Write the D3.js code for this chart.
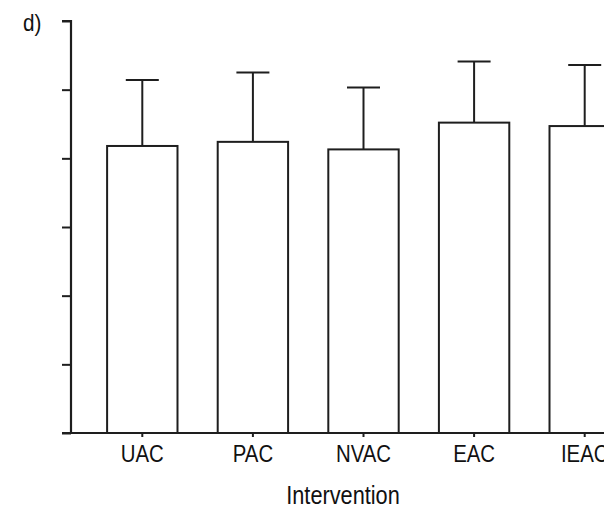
<!DOCTYPE html>
<html><head><meta charset="utf-8">
<script src="https://cdn.jsdelivr.net/npm/d3@7"></script>
<style>html,body{margin:0;padding:0;background:#fff;}svg{display:block;}</style>
</head><body>
<svg id="c" width="604" height="509"></svg>
<script>
const categories = ["UAC", "PAC", "NVAC", "EAC", "IEAC"];
const means = [4.18, 4.24, 4.13, 4.52, 4.47];
const errUpper = [5.14, 5.25, 5.03, 5.41, 5.36];
const yTicks = [0, 1, 2, 3, 4, 5, 6];
const panelLabel = "d)";
const xTitle = "Intervention";

const svg = d3.select("#c");
const font = "'Liberation Sans',Arial,sans-serif";
const ink = "#1e1e1e";

const y = d3.scaleLinear().domain([0, 6]).range([433, 21]);
const x = d3.scaleBand().domain(categories).range([87, 640]).paddingInner(0.3636).paddingOuter(0.1818);
const axisX = 71;

// error bars
const eb = svg.append("g").attr("stroke", ink).attr("stroke-width", 2).attr("fill", "none");
categories.forEach((c, i) => {
  const cx = x(c) + x.bandwidth() / 2;
  eb.append("line").attr("x1", cx).attr("x2", cx).attr("y1", y(means[i])).attr("y2", y(errUpper[i]));
  eb.append("line").attr("x1", cx - 16.5).attr("x2", cx + 16.5).attr("y1", y(errUpper[i])).attr("y2", y(errUpper[i]));
});

// bars
svg.append("g").selectAll("rect").data(categories).join("rect")
  .attr("x", d => x(d)).attr("width", x.bandwidth())
  .attr("y", (d, i) => y(means[i])).attr("height", (d, i) => y(0) - y(means[i]))
  .attr("fill", "#fff").attr("stroke", ink).attr("stroke-width", 2);

// y axis
const ya = svg.append("g").attr("transform", `translate(${axisX},0)`)
  .call(d3.axisLeft(y).tickValues(yTicks).tickSize(9).tickFormat(""));
ya.select(".domain").attr("d", `M-9,${y(6)}H0V${y(0)}`).attr("stroke", ink).attr("stroke-width", 2.2);
ya.selectAll(".tick line").attr("stroke", ink).attr("stroke-width", 2);

// x axis
const xa = svg.append("g").attr("transform", `translate(0,${y(0)})`)
  .call(d3.axisBottom(x).tickSize(4).tickSizeOuter(0));
xa.select(".domain").attr("d", `M${axisX - 9},0H640`).attr("stroke", ink).attr("stroke-width", 2.2);
xa.selectAll(".tick line").attr("stroke", ink).attr("stroke-width", 2);
xa.selectAll(".tick text").attr("y", 29.5).attr("dy", 0)
  .attr("transform", "scale(0.85,1)")
  .attr("font-family", font).attr("font-size", 24).attr("fill", "#111");

svg.append("text").attr("transform", "translate(343,504) scale(0.82,1)").attr("text-anchor", "middle")
  .attr("font-family", font).attr("font-size", 26.5).attr("fill", "#111").text(xTitle);

svg.append("text").attr("transform", "translate(23,30.5) scale(0.9,1)")
  .attr("font-family", font).attr("font-size", 23).attr("fill", "#111").text(panelLabel);
</script>
</body></html>
